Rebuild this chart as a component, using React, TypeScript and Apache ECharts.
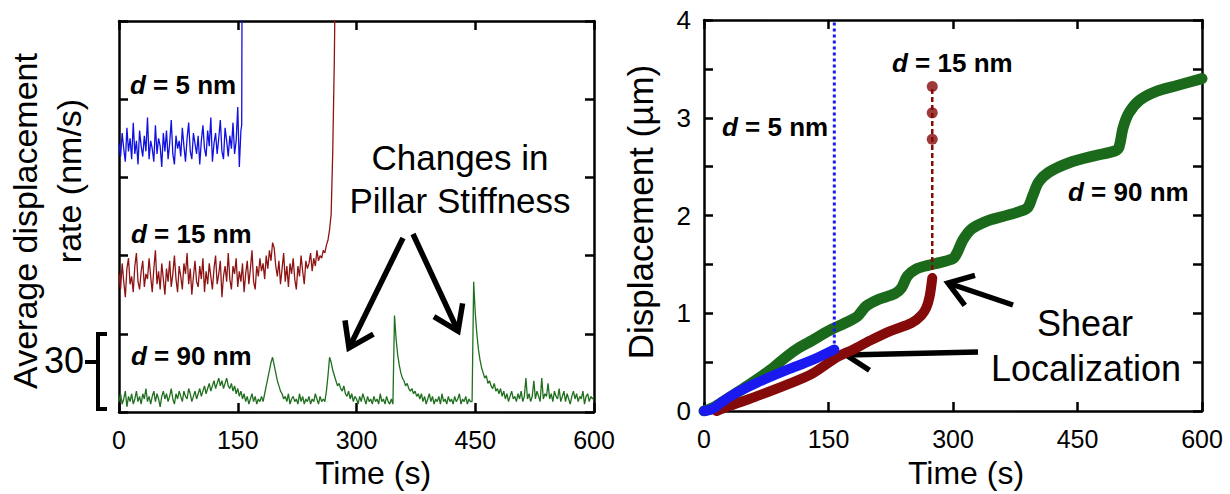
import React, { useEffect, useRef } from 'react';
import * as echarts from 'echarts';

const FONT = 'Arial, "Liberation Sans", Helvetica, sans-serif';

// ---------- Left panel: average displacement rate (nm/s), sampled every 2 s ----------
const RATE_DT = 2;
const timeTicks = [0, 150, 300, 450, 600];

const blueRate = [
  103, 98, 107, 101, 96, 109, 100, 105, 97, 111,
  99, 104, 95, 108, 102, 98, 106, 100, 113, 97,
  104, 101, 96, 110, 99, 105, 102, 94, 107, 100,
  108, 97, 103, 112, 99, 95, 106, 101, 104, 98,
  109, 102, 96, 105, 111, 100, 97, 107, 103, 99,
  106, 95, 104, 110, 101, 98, 108, 102, 113, 96,
  103, 107, 99, 105, 112, 100, 97, 109, 104, 98,
  106, 101, 111, 99, 104, 117, 94, 108,
];
const blueRateJump = [[155, 110], [156, 230]];

const redRate = [
  53, 47, 57, 50, 44, 55, 59, 49, 52, 46,
  56, 61, 50, 47, 54, 58, 48, 53, 51, 59,
  52, 46, 55, 62, 49, 54, 47, 57, 51, 45,
  55, 50, 58, 48, 53, 60, 51, 46, 56, 52,
  47, 57, 53, 61, 49, 55, 45, 52, 58, 50,
  48, 56, 51, 59, 46, 54, 49, 57, 52, 47,
  55, 60, 49, 53, 58, 44, 52, 56, 50, 61,
  51, 47, 56, 53, 59, 48, 54, 50, 57, 46,
  53, 58, 49, 55, 62, 50, 47, 56, 52, 59,
  54, 57, 51, 60, 55, 62, 58, 65, 63, 56,
  52, 58, 49, 55, 61, 50, 56, 48, 57, 53,
  59, 51, 47, 56, 52, 60, 54, 49, 58, 55,
  57, 61, 54, 59, 56, 62,
];
const redRateRise = [[252, 58], [254, 60], [256, 59], [258, 62], [260, 61], [262, 64], [264, 66], [266, 70], [268, 76], [270, 100], [272, 135], [274, 190]];

const greenRate = [
  4, 7, 3, 5, 8, 2, 6, 4, 7, 3,
  5, 8, 4, 6, 3, 7, 5, 9, 4, 6,
  3, 6, 8, 4, 7, 5, 2, 6, 8, 5,
  7, 4, 6, 9, 5, 3, 7, 5, 8, 6,
  4, 8, 6, 5, 9, 7, 4, 6, 8, 5,
  7, 9, 6, 8, 10, 7, 9, 11, 8, 10,
  12, 9, 11, 13, 10, 12, 9, 11, 13, 10,
  9, 11, 8, 10, 7, 9, 6, 8, 5, 7,
  4, 6, 3, 5, 7, 4, 6, 3, 5, 4,
  6, 4, 7, 10, 13, 16, 19, 21, 18, 15,
  12, 10, 8, 7, 5, 6, 4, 7, 3, 5,
  6, 4, 5, 3, 7, 4, 6, 3, 5, 4,
  6, 3, 5, 4, 7, 5, 3, 6, 4, 5,
  4, 8, 14, 21, 19, 16, 14, 12, 10, 11,
  9, 8, 10, 7, 6, 8, 5, 7, 4, 6,
  5, 3, 6, 4, 7, 5, 3, 6, 4, 5,
  3, 6, 4, 5, 3, 7, 4, 5, 3, 6,
  4, 3, 5, 3, 37, 28, 22, 18, 15, 13,
  12, 10, 11, 9, 8, 9, 7, 8, 6, 7,
  5, 7, 4, 6, 3, 5, 7, 4, 6, 3,
  5, 4, 6, 3, 7, 4, 5, 3, 6, 4,
  5, 3, 6, 4, 5, 7, 3, 5, 4, 6,
  3, 5, 4, 4, 50, 38, 30, 24, 20, 17,
  15, 13, 14, 11, 12, 10, 9, 11, 8, 9,
  7, 9, 6, 8, 5, 7, 4, 6, 8, 5,
  6, 4, 7, 5, 8, 4, 6, 13, 5, 7,
  4, 6, 12, 5, 8, 6, 4, 13, 5, 7,
  6, 11, 5, 7, 4, 8, 6, 5, 9, 4,
  6, 8, 4, 7, 5, 3, 6, 8, 5, 7,
  4, 6, 5, 8, 3, 6, 7, 4, 6, 5,
  6,
];

// ---------- Right panel: displacement (µm) vs time (s) ----------
const greenDisp = [
  [0, 0], [10, 0.03], [20, 0.08], [40, 0.19], [60, 0.3], [80, 0.42], [100, 0.56], [115, 0.65],
  [130, 0.72], [150, 0.82], [170, 0.9], [185, 0.97], [195, 1.07], [210, 1.14], [230, 1.2],
  [238, 1.26], [245, 1.38], [255, 1.45], [270, 1.49], [285, 1.52], [300, 1.56], [305, 1.62],
  [312, 1.75], [322, 1.86], [340, 1.94], [360, 1.99], [380, 2.04], [390, 2.08], [396, 2.2],
  [403, 2.34], [415, 2.44], [440, 2.54], [470, 2.61], [495, 2.66], [500, 2.7], [505, 2.9],
  [512, 3.05], [525, 3.18], [545, 3.27], [570, 3.33], [600, 3.4],
];
const redDisp = [
  [15, 0], [30, 0.05], [60, 0.14], [100, 0.27], [130, 0.38], [160, 0.55], [180, 0.63],
  [200, 0.72], [225, 0.82], [250, 0.9], [262, 0.98], [268, 1.06], [272, 1.18], [275, 1.36],
];
const redBurst = [[275, 1.36], [275, 3.32]];
const redBurstDots = [[275, 2.78], [275, 3.05], [275, 3.32]];
const blueDisp = [
  [0, 0], [10, 0.02], [23, 0.1], [40, 0.19], [64, 0.29], [100, 0.42], [130, 0.52], [157, 0.63],
];
const blueBurst = [[157, 0.63], [157, 4]];

const C_BLUE_L = '#1010e0';
const C_RED_L = '#8e1414';
const C_GREEN_L = '#1f6f1f';
const C_GREEN_R = '#1b6a1b';
const C_RED_R = '#850a0a';
const C_BLUE_R = '#1a1af0';

function arrow(x1: number, y1: number, x2: number, y2: number) {
  const a = Math.atan2(y2 - y1, x2 - x1);
  const L = 28;
  const w = 0.6;
  const p1 = [x2 - L * Math.cos(a - w), y2 - L * Math.sin(a - w)];
  const p2 = [x2 - L * Math.cos(a + w), y2 - L * Math.sin(a + w)];
  return [
    { type: 'line', shape: { x1, y1, x2, y2 }, style: { stroke: '#000', lineWidth: 5.5 } },
    {
      type: 'polyline',
      shape: { points: [p1, [x2, y2], p2] },
      style: { stroke: '#000', lineWidth: 5.5, fill: null, lineJoin: 'miter' },
    },
  ];
}

function dLabel(x: number, y: number, rest: string) {
  return {
    type: 'text',
    x,
    y,
    style: {
      text: '{i|d}' + rest,
      fill: '#000',
      fontFamily: FONT,
      fontSize: 26,
      fontWeight: 'bold',
      align: 'left',
      verticalAlign: 'middle',
      rich: { i: { fontStyle: 'italic', fontWeight: 'bold', fontSize: 26, fontFamily: FONT, fill: '#000' } },
    },
  };
}

function plainText(x: number, y: number, text: string, size: number, rotation = 0) {
  return {
    type: 'text',
    x,
    y,
    rotation,
    style: {
      text,
      fill: '#000',
      fontFamily: FONT,
      fontSize: size,
      align: 'center',
      verticalAlign: 'middle',
    },
  };
}

const axisLineStyle = { show: true, onZero: false, lineStyle: { color: '#000', width: 2.5 } };
const tickStyle = { show: true, inside: true, length: 9, lineStyle: { color: '#000', width: 2.5 } };

export default function App() {
  const ref = useRef<HTMLDivElement>(null);

  useEffect(() => {
    if (!ref.current) return;
    const chart = echarts.init(ref.current, undefined, { renderer: 'svg' });

    const toPairs = (arr: number[]) => arr.map((v, i) => [i * RATE_DT, v]);

    const xBase = (grid: number, position: string, labels: boolean) => ({
      gridIndex: grid,
      type: 'value',
      position,
      min: timeTicks[0],
      max: timeTicks[timeTicks.length - 1],
      interval: timeTicks[1] - timeTicks[0],
      axisLine: axisLineStyle,
      axisTick: tickStyle,
      splitLine: { show: false },
      axisLabel: labels
        ? { show: true, fontSize: 25, color: '#000', fontFamily: FONT, margin: 15 }
        : { show: false },
    });

    const option: any = {
      animation: false,
      backgroundColor: '#fff',
      grid: [
        { left: 119, top: 21, width: 475, height: 391 },
        { left: 704, top: 20, width: 498, height: 391 },
      ],
      xAxis: [
        xBase(0, 'bottom', true),
        xBase(0, 'top', false),
        xBase(1, 'bottom', true),
        xBase(1, 'top', false),
      ],
      yAxis: [
        {
          gridIndex: 0, type: 'value', position: 'left', min: 0, max: 150, interval: 30,
          axisLine: axisLineStyle, axisTick: tickStyle, splitLine: { show: false }, axisLabel: { show: false },
        },
        {
          gridIndex: 0, type: 'value', position: 'right', min: 0, max: 150, interval: 30,
          axisLine: axisLineStyle, axisTick: tickStyle, splitLine: { show: false }, axisLabel: { show: false },
        },
        {
          gridIndex: 1, type: 'value', position: 'left', min: 0, max: 4, interval: 0.5,
          axisLine: axisLineStyle, axisTick: tickStyle, splitLine: { show: false },
          axisLabel: {
            show: true, fontSize: 26, color: '#000', fontFamily: FONT, margin: 13,
            formatter: (v: number) => (Number.isInteger(v) ? String(v) : ''),
          },
        },
        {
          gridIndex: 1, type: 'value', position: 'right', min: 0, max: 4, interval: 0.5,
          axisLine: axisLineStyle, axisTick: tickStyle, splitLine: { show: false }, axisLabel: { show: false },
        },
      ],
      series: [
        // left panel
        {
          type: 'line', xAxisIndex: 0, yAxisIndex: 0, showSymbol: false, clip: true,
          data: [...toPairs(blueRate), ...blueRateJump],
          lineStyle: { color: C_BLUE_L, width: 1.3 },
        },
        {
          type: 'line', xAxisIndex: 0, yAxisIndex: 0, showSymbol: false, clip: true,
          data: [...toPairs(redRate), ...redRateRise],
          lineStyle: { color: C_RED_L, width: 1.3 },
        },
        {
          type: 'line', xAxisIndex: 0, yAxisIndex: 0, showSymbol: false, clip: true,
          data: toPairs(greenRate),
          lineStyle: { color: C_GREEN_L, width: 1.3 },
        },
        // right panel
        {
          type: 'line', xAxisIndex: 2, yAxisIndex: 2, showSymbol: false, smooth: 0.3,
          data: greenDisp,
          lineStyle: { color: C_GREEN_R, width: 11, cap: 'round', join: 'round' },
        },
        {
          type: 'line', xAxisIndex: 2, yAxisIndex: 2, showSymbol: false,
          data: redBurst,
          lineStyle: { color: C_RED_R, width: 2.5, type: [5, 3] },
        },
        {
          type: 'scatter', xAxisIndex: 2, yAxisIndex: 2, symbol: 'circle', symbolSize: 11,
          data: redBurstDots,
          itemStyle: { color: C_RED_R },
        },
        {
          type: 'line', xAxisIndex: 2, yAxisIndex: 2, showSymbol: false, smooth: 0.3,
          data: redDisp,
          lineStyle: { color: C_RED_R, width: 10, cap: 'round', join: 'round' },
        },
        {
          type: 'line', xAxisIndex: 2, yAxisIndex: 2, showSymbol: false,
          data: blueBurst,
          lineStyle: { color: C_BLUE_R, width: 3, type: [3, 3] },
        },
        {
          type: 'line', xAxisIndex: 2, yAxisIndex: 2, showSymbol: false, smooth: 0.3,
          data: blueDisp,
          lineStyle: { color: C_BLUE_R, width: 10, cap: 'round', join: 'round' },
        },
      ],
      graphic: [
        // left panel texts
        dLabel(130, 85, ' = 5 nm'),
        dLabel(131, 234, ' = 15 nm'),
        dLabel(131, 356, ' = 90 nm'),
        plainText(460, 157, 'Changes in', 35),
        plainText(460, 200, 'Pillar Stiffness', 35),
        ...arrow(403, 238, 349, 348),
        ...arrow(413, 234, 458, 331),
        plainText(25, 221, 'Average displacement', 34, Math.PI / 2),
        plainText(69, 181, 'rate (nm/s)', 34, Math.PI / 2),
        plainText(373, 473, 'Time (s)', 32),
        plainText(64, 360, '30', 36),
        {
          type: 'polyline',
          shape: { points: [[107, 334], [98, 334], [98, 409], [107, 409]] },
          style: { stroke: '#000', lineWidth: 4, fill: null },
        },
        { type: 'line', shape: { x1: 85, y1: 362, x2: 98, y2: 362 }, style: { stroke: '#000', lineWidth: 4 } },
        // right panel texts
        dLabel(722, 127, ' = 5 nm'),
        dLabel(892, 63, ' = 15 nm'),
        dLabel(1068, 192, ' = 90 nm'),
        plainText(1085, 323, 'Shear', 36),
        plainText(1086, 368, 'Localization', 36),
        ...arrow(1013, 305, 948, 283),
        ...arrow(978, 352, 846, 355),
        plainText(640, 212, 'Displacement (\u00b5m)', 35, Math.PI / 2),
        plainText(966, 473, 'Time (s)', 32),
      ],
    };

    chart.setOption(option);
    return () => chart.dispose();
  }, []);

  return (
    <div
      ref={ref}
      style={{ position: 'fixed', left: 0, top: 0, width: 1230, height: 494, background: '#fff' }}
    />
  );
}
